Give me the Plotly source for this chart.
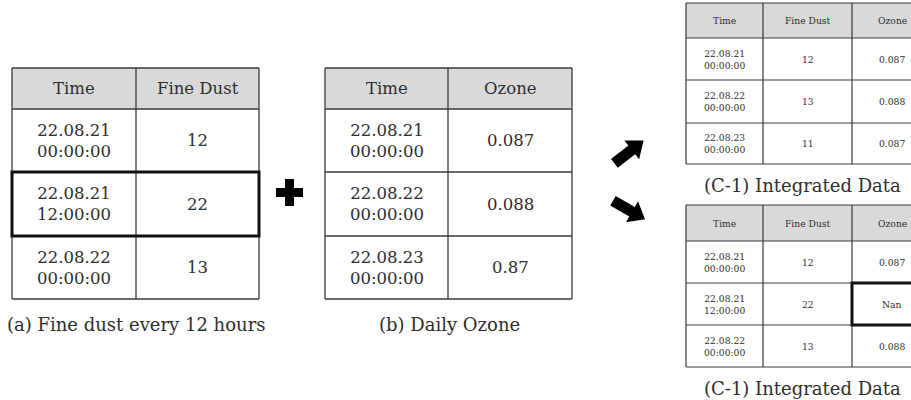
import numpy as np
import plotly.graph_objects as go

# ---------------- data ----------------
headers_a = ["Time", "Fine Dust"]
times_a = ["22.08.21<br>00:00:00", "22.08.21<br>12:00:00", "22.08.22<br>00:00:00"]
dust_a = ["12", "22", "13"]

headers_b = ["Time", "Ozone"]
times_b = ["22.08.21<br>00:00:00", "22.08.22<br>00:00:00", "22.08.23<br>00:00:00"]
ozone_b = ["0.087", "0.088", "0.87"]

headers_c = ["Time", "Fine Dust", "Ozone"]
times_c1 = ["22.08.21<br>00:00:00", "22.08.22<br>00:00:00", "22.08.23<br>00:00:00"]
dust_c1 = ["12", "13", "11"]
ozone_c1 = ["0.087", "0.088", "0.087"]

times_c2 = ["22.08.21<br>00:00:00", "22.08.21<br>12:00:00", "22.08.22<br>00:00:00"]
dust_c2 = ["12", "22", "13"]
ozone_c2 = ["0.087", "Nan", "0.088"]

captions = ["(a) Fine dust every 12 hours", "(b) Daily Ozone",
            "(C-1) Integrated Data", "(C-1) Integrated Data"]

# ---------------- style ----------------
FONT = "DejaVu Serif"
TXT = "#2e2e2e"
LINE = "#3a3a3a"
HEAD = "#d9d9d9"

W, H = 911, 400
fig = go.Figure()
shapes = []
annots = []


def table(xe, ye, header, cols, fsize, lw, hl=None):
    shapes.append(dict(type="rect", x0=xe[0], x1=xe[-1], y0=ye[0], y1=ye[1],
                       xref="x", yref="y", fillcolor=HEAD, line=dict(width=0), layer="below"))
    for y in ye:
        shapes.append(dict(type="line", x0=xe[0], x1=xe[-1], y0=y, y1=y, xref="x", yref="y",
                           line=dict(color=LINE, width=lw)))
    for x in xe:
        shapes.append(dict(type="line", x0=x, x1=x, y0=ye[0], y1=ye[-1], xref="x", yref="y",
                           line=dict(color=LINE, width=lw)))
    for j, h in enumerate(header):
        annots.append(dict(x=(xe[j] + xe[j + 1]) / 2, y=(ye[0] + ye[1]) / 2, text=h,
                           showarrow=False, xref="x", yref="y",
                           font=dict(family=FONT, size=fsize, color=TXT)))
    for j, col in enumerate(cols):
        for i, v in enumerate(col):
            annots.append(dict(x=(xe[j] + xe[j + 1]) / 2, y=(ye[i + 1] + ye[i + 2]) / 2, text=v,
                               showarrow=False, xref="x", yref="y",
                               font=dict(family=FONT, size=fsize, color=TXT)))
    if hl is not None:
        (r, c0, c1) = hl
        shapes.append(dict(type="rect", x0=xe[c0], x1=xe[c1], y0=ye[r + 1], y1=ye[r + 2],
                           xref="x", yref="y", line=dict(color="#111", width=3)))


table([12, 136, 259], [68, 109, 172, 236, 299], headers_a, [times_a, dust_a], 16.5, 1.3, hl=(1, 0, 2))
table([325, 448, 572], [68, 109, 172, 236, 299], headers_b, [times_b, ozone_b], 16.5, 1.3)
table([686, 763, 852, 932], [3, 38, 80, 123, 164], headers_c, [times_c1, dust_c1, ozone_c1], 9.2, 1.2)
table([686, 763, 852, 932], [205, 241, 283, 325, 367], headers_c, [times_c2, dust_c2, ozone_c2], 9.2, 1.2,
      hl=(1, 2, 3))

for txt, (cx, cy) in zip(captions, [(136, 324), (449, 324), (802, 185), (802, 388)]):
    annots.append(dict(x=cx, y=cy, text=txt, showarrow=False, xref="x", yref="y",
                       font=dict(family=FONT, size=18, color=TXT)))

# plus sign
px, py, arm, th = 289.5, 192.5, 13.5, 4.5
shapes.append(dict(type="rect", x0=px - arm, x1=px + arm, y0=py - th, y1=py + th,
                   xref="x", yref="y", fillcolor="black", line=dict(width=0)))
shapes.append(dict(type="rect", x0=px - th, x1=px + th, y0=py - arm, y1=py + arm,
                   xref="x", yref="y", fillcolor="black", line=dict(width=0)))


def block_arrow(cx, cy, ang_deg, length=37, shaft=11, headw=24, headl=15):
    a = np.deg2rad(ang_deg)
    d = np.array([np.cos(a), np.sin(a)])
    n = np.array([-d[1], d[0]])
    c = np.array([cx, cy])
    tail = c - d * length / 2
    tip = c + d * length / 2
    neck = tip - d * headl
    pts = [tail + n * shaft / 2, neck + n * shaft / 2, neck + n * headw / 2, tip,
           neck - n * headw / 2, neck - n * shaft / 2, tail - n * shaft / 2]
    path = "M " + " L ".join(f"{p[0]:.2f},{p[1]:.2f}" for p in pts) + " Z"
    shapes.append(dict(type="path", path=path, xref="x", yref="y",
                       fillcolor="black", line=dict(width=0)))


block_arrow(629, 152, -38)
block_arrow(629, 210, 30)

fig.update_layout(
    width=W, height=H, margin=dict(l=0, r=0, t=0, b=0),
    paper_bgcolor="white", plot_bgcolor="white",
    xaxis=dict(range=[0, W], visible=False, fixedrange=True),
    yaxis=dict(range=[H, 0], visible=False, fixedrange=True),
    shapes=shapes, annotations=annots, showlegend=False,
)
fig.write_html("out.html", config={"displayModeBar": False},
               post_script="document.body.style.margin='0';document.body.style.overflow='hidden';")
